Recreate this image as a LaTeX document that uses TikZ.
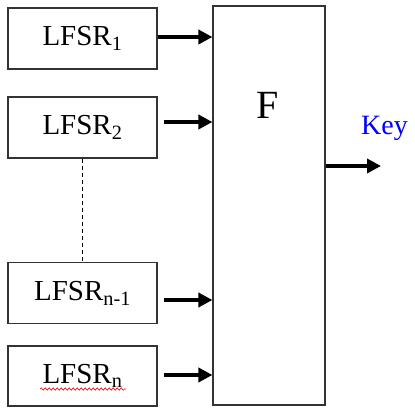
\documentclass[tikz,border=0pt]{standalone}
\usepackage{fontspec}
\setmainfont{Liberation Serif}
\usetikzlibrary{arrows.meta,decorations.pathmorphing}
\begin{document}
\begin{tikzpicture}[x=1pt,y=1pt,
  lfsr/.style={draw=black!80,line width=1.1pt,minimum width=149pt,minimum height=61pt,inner sep=0pt,font=\fontsize{29}{31}\selectfont},
  feed/.style={line width=4pt,-{Triangle[length=14pt,width=14pt]}}]
\useasboundingbox (0,0) rectangle (415,407);
\node[lfsr] (l1) at (82.5,368.5) {LFSR\textsubscript{1}};
\node[lfsr] (l2) at (82.5,279.5) {LFSR\textsubscript{2}};
\node[lfsr] (l3) at (82.5,114) {LFSR\textsubscript{n-1}};
\node[lfsr,minimum height=60pt] (l4) at (82.5,31) {LFSR\textsubscript{n}};
\node[draw=black!80,line width=1.1pt,minimum width=112pt,minimum height=399pt,inner sep=0pt] (f) at (269,201.5) {};
\node[font=\fontsize{40}{44}\selectfont] (ft) at (268,302) {F};
\node[font=\fontsize{28}{30}\selectfont,text=blue,anchor=west,inner sep=0pt] (key) at (361,279) {Key};
\coordinate (kout) at (381,241);
\draw[dashed,line width=0.8pt,dash pattern=on 4pt off 3pt] (l2.south) -- (l3.north);
\draw[feed] (l1.east |- 0,370) -- (f.west |- 0,370);
\draw[feed] ([xshift=6pt]l2.east |- 0,285) -- (f.west |- 0,285);
\draw[feed] ([xshift=6pt]l3.east |- 0,107) -- (f.west |- 0,107);
\draw[feed] ([xshift=6pt]l4.east |- 0,32) -- (f.west |- 0,32);
\draw[feed] (f.east |- kout) -- (kout);
\draw[red,line width=0.6pt,decorate,decoration={snake,amplitude=1.2pt,segment length=4pt}] (40,18) -- (126,18);
\end{tikzpicture}
\end{document}
